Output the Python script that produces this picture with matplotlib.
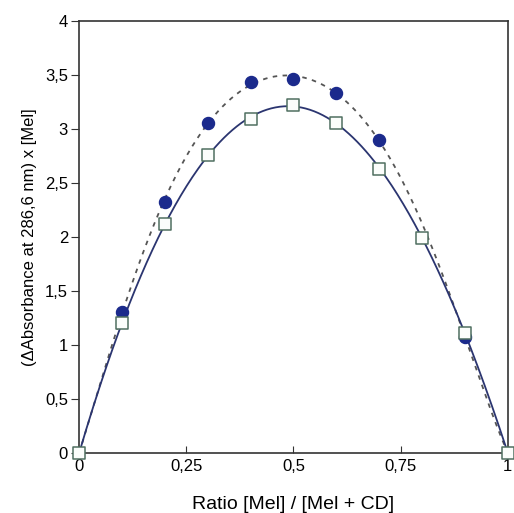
import numpy as np
import matplotlib.pyplot as plt

plt.rcParams["font.family"] = ["Liberation Sans", "DejaVu Sans"]

# mole fraction of Mel
ratio = [0.0, 0.1, 0.2, 0.3, 0.4, 0.5, 0.6, 0.7, 0.8, 0.9, 1.0]
# filled circles (dashed fit)
circles_x = [0.0, 0.1, 0.2, 0.3, 0.4, 0.5, 0.6, 0.7, 0.9, 1.0]
circles_y = [0.0, 1.31, 2.32, 3.06, 3.44, 3.46, 3.33, 2.90, 1.07, 0.0]
# open squares (solid fit)
squares_y = [0.0, 1.20, 2.12, 2.76, 3.09, 3.22, 3.06, 2.63, 1.99, 1.11, 0.0]

xticks = [0, 0.25, 0.5, 0.75, 1]
xtick_labels = ["0", "0,25", "0,5", "0,75", "1"]
yticks = [0, 0.5, 1, 1.5, 2, 2.5, 3, 3.5, 4]
ytick_labels = ["0", "0,5", "1", "1,5", "2", "2,5", "3", "3,5", "4"]


def smooth_fit(x, y, deg):
    """Polynomial fit through the points, pinned at the two ends."""
    w = np.ones(len(x))
    w[0] = w[-1] = 50
    coef = np.polyfit(x, y, deg, w=w)
    xs = np.linspace(0, 1, 300)
    return xs, np.polyval(coef, xs)


fig = plt.figure(figsize=(5.14, 5.13), dpi=100)
ax = fig.add_axes([0.154, 0.117, 0.834, 0.842])

xs, ys = smooth_fit(circles_x, circles_y, 6)
ax.plot(xs, ys, color="#555555", lw=1.3, ls=(0, (2.5, 3)), zorder=2)
xs, ys = smooth_fit(ratio, squares_y, 5)
ax.plot(xs, ys, color="#2b3570", lw=1.3, zorder=2)

ax.scatter(circles_x[1:-1], circles_y[1:-1], s=75, color="#1b2a8c",
           edgecolor="#1b2a8c", zorder=3, clip_on=False)
ax.scatter(ratio, squares_y, s=70, marker="s", facecolor="#fbfdfb",
           edgecolor="#4f6f60", lw=1.1, zorder=4, clip_on=False)

ax.set_xlim(0, 1)
ax.set_ylim(0, 4)
ax.set_xticks(xticks)
ax.set_xticklabels(xtick_labels)
ax.set_yticks(yticks)
ax.set_yticklabels(ytick_labels)
ax.tick_params(axis="x", direction="in", length=5, labelsize=12, pad=4,
               color="#333333")
ax.tick_params(axis="y", direction="out", length=6, labelsize=12, pad=2,
               color="#333333")
for side in ax.spines.values():
    side.set_color("#333333")
    side.set_linewidth(1.2)

ax.set_xlabel("Ratio [Mel] / [Mel + CD]", fontsize=14, labelpad=16)
ax.set_ylabel("(ΔAbsorbance at 286,6 nm) x [Mel]", fontsize=12, labelpad=6)

fig.savefig("out.png", dpi=100)
